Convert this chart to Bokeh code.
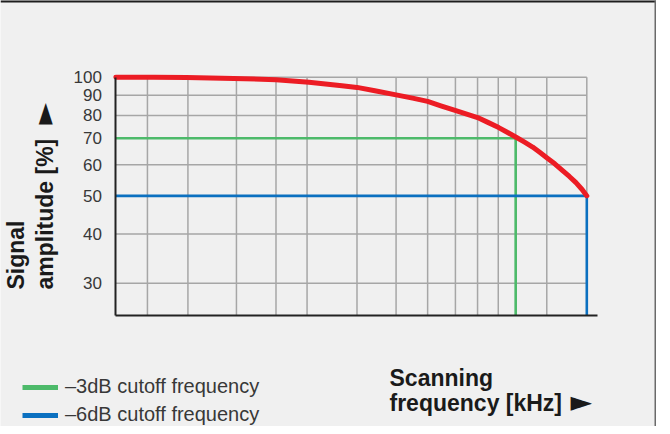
import math
from bokeh.plotting import figure
from bokeh.models import (Range1d, FixedTicker, PrintfTickFormatter, Label,
                          Legend, LegendItem, LinearAxis, LogAxis)
from bokeh.embed import file_html
from bokeh.resources import INLINE

# ---- data ----
amp_ticks = [30, 40, 50, 60, 70, 80, 90, 100]
freq_grid = [6.7, 15.3, 25.6, 34.0, 40.6, 51.2, 59.5, 66.2, 72.1, 76.8, 81.2, 84.9, 91.5, 100]
curve_freq = [0, 8, 15, 25, 34, 41, 48, 51.2, 55, 59.5, 63, 66.2, 69, 72.2, 74.5,
              76.8, 79, 81.3, 83, 84.9, 86.7, 88.5, 90, 91.5, 93.2, 94.8, 96.3, 97.7, 99, 100]
curve_amp = [100, 99.95, 99.8, 99.3, 98.5, 97.1, 95.1, 94.2, 92.4, 90.2, 88.5, 86.8, 84.6, 82.2, 80.6,
             79.0, 76.8, 74.5, 72.6, 70.5, 68.5, 66.5, 64.5, 62.5, 60.3, 58.0, 56.0, 54.0, 51.9, 50.0]
cut3_freq, cut3_amp = 84.9, 70
cut6_freq, cut6_amp = 100, 50
axis_x = (0, 102.3)      # extent of the frequency axis
axis_y = (24.9, 100)     # extent of the amplitude axis
view_x = (-24.5, 114.8)  # whole canvas
view_y = (13.0, 156.5)

FONT = "Liberation Sans"
RED = "#ec1c24"
GREEN = "#4dba6a"
BLUE = "#0b70c0"
GRID = "#a6a6a6"
BG = "#f0f0f0"
W, H = 656, 426

p = figure(width=W, height=H, x_range=Range1d(*view_x), y_range=Range1d(*view_y),
           y_axis_type="log", x_axis_location=None, y_axis_location=None,
           output_backend="svg", toolbar_location=None,
           min_border=0, background_fill_color=BG, border_fill_color=BG,
           outline_line_color=None)
p.xgrid.visible = False
p.ygrid.visible = False

# grid lines limited to the chart area
n = len(freq_grid)
p.segment(x0=freq_grid, x1=freq_grid, y0=[axis_y[0]] * n, y1=[axis_y[1]] * n,
          line_color=GRID, line_width=1.5)
m = len(amp_ticks)
p.segment(x0=[axis_x[0]] * m, x1=[freq_grid[-1]] * m, y0=amp_ticks, y1=amp_ticks,
          line_color=GRID, line_width=1.5)

# axes placed inside the canvas
xa = LinearAxis(fixed_location=axis_y[0], bounds=axis_x, ticker=FixedTicker(ticks=[]),
                axis_line_color="#222222", axis_line_width=2,
                major_tick_line_color=None, minor_tick_line_color=None,
                major_label_text_font_size="0px")
p.add_layout(xa, "below")
ya = LogAxis(fixed_location=axis_x[0], bounds=axis_y,
             ticker=FixedTicker(ticks=amp_ticks, minor_ticks=[]),
             formatter=PrintfTickFormatter(format="%d"),
             axis_line_color="#222222", axis_line_width=2,
             major_tick_line_color=None, minor_tick_line_color=None,
             major_tick_out=0, major_label_standoff=14,
             major_label_text_font=FONT, major_label_text_font_size="17px",
             major_label_text_color="#383838")
p.add_layout(ya, "left")

# cutoff lines
p.line([axis_x[0], cut3_freq, cut3_freq], [cut3_amp, cut3_amp, axis_y[0]], line_color=GREEN, line_width=2.6)
p.line([axis_x[0], cut6_freq, cut6_freq], [cut6_amp, cut6_amp, axis_y[0]], line_color=BLUE, line_width=2.6)

# response curve
p.line(curve_freq, curve_amp, line_color=RED, line_width=5, line_join="round", line_cap="round")

# card border (top and right edges of the canvas)
p.line([view_x[0], view_x[1]], [view_y[1], view_y[1]], line_color="#1e1e1e", line_width=4)
p.line([view_x[1], view_x[1]], [view_y[0], view_y[1]], line_color="#6a6a6a", line_width=4)

# legend (single-point sample renderers: nothing visible in the chart)
r3 = p.line([cut3_freq], [cut3_amp], line_color=GREEN, line_width=5, line_cap="butt")
r6 = p.line([cut6_freq], [cut6_amp], line_color=BLUE, line_width=5, line_cap="butt")
legend = Legend(items=[LegendItem(label="\u20133dB cutoff frequency", renderers=[r3]),
                       LegendItem(label="\u20136dB cutoff frequency", renderers=[r6])],
                location=(22, 0), orientation="vertical",
                glyph_width=36, glyph_height=22, label_height=22, spacing=5,
                padding=0, margin=0, label_standoff=7,
                background_fill_alpha=0, border_line_color=None,
                label_text_font=FONT, label_text_font_size="20px",
                label_text_color="#383838")
p.add_layout(legend)

# titles (screen units: from canvas left / bottom)
common = dict(x_units="screen", y_units="screen", text_font=FONT,
              text_font_style="bold", text_font_size="23px", text_color="#1a1a1a",
              text_align="left", text_baseline="alphabetic")
p.add_layout(Label(x=15.5, y=137, angle=math.pi / 2, text="Signal", **common))
p.add_layout(Label(x=44, y=137, angle=math.pi / 2, text="amplitude [%]", **common))
p.add_layout(Label(x=389, y=49, text="Scanning", **common))
p.add_layout(Label(x=389, y=24, text="frequency [kHz]", **common))

arrow = dict(x_units="screen", y_units="screen", text="\u25ba", text_font="DejaVu Sans",
             text_font_size="28px", text_color="#1a1a1a", text_align="left",
             text_baseline="middle")
p.add_layout(Label(x=570, y=25, **arrow))
p.add_layout(Label(x=42.5, y=302, angle=math.pi / 2, **arrow))

open("out.html", "w").write(file_html(p, INLINE))
